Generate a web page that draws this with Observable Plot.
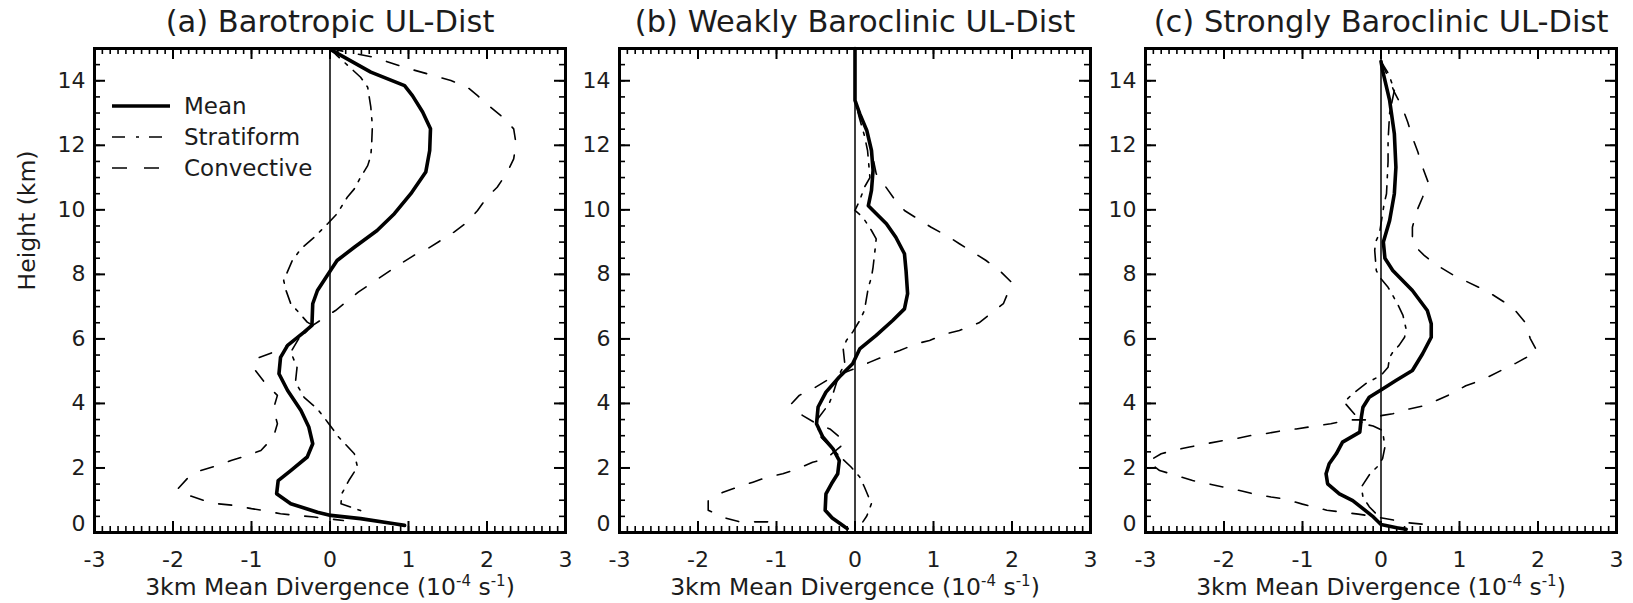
<!DOCTYPE html>
<html>
<head>
<meta charset="utf-8">
<script src="https://cdn.jsdelivr.net/npm/d3@7"></script>
<script src="https://cdn.jsdelivr.net/npm/@observablehq/plot@0.6"></script>
<style>
  html, body { margin: 0; padding: 0; background: #fff; }
  #chart { position: relative; width: 1633px; height: 603px; font-family: "DejaVu Sans", sans-serif; overflow: hidden; }
  #chart svg.panel { position: absolute; top: 0; }
  #legend { position: absolute; left: 0; top: 0; pointer-events: none; }
</style>
</head>
<body>
<div id="chart"></div>
<script>
// ---------------- Data (x = divergence 10^-4 s^-1, y = height km) ----------------
const panelTitles = ["(a) Barotropic UL-Dist", "(b) Weakly Baroclinic UL-Dist", "(c) Strongly Baroclinic UL-Dist"];
const seriesNames = ["Mean", "Stratiform", "Convective"];
const xTicks = [-3, -2, -1, 0, 1, 2, 3];
const yTicks = [0, 2, 4, 6, 8, 10, 12, 14];
const xMinorTicks = d3.range(-30, 31).map(i => i / 10);
const yMinorTicks = d3.range(0, 31).map(i => i / 2);
const xLabelParts = ["3km Mean Divergence (10", "-4", " s", "-1", ")"];
const yLabel = "Height (km)";

const meanA = [[0.02,14.95],[0.52,14.27],[0.95,13.85],[1.05,13.54],[1.18,13.03],[1.28,12.51],[1.27,11.84],[1.22,11.17],[1.03,10.5],[0.82,9.88],[0.6,9.36],[0.31,8.84],[0.09,8.43],[0.0,8.1],[-0.16,7.5],[-0.22,7.09],[-0.23,6.42],[-0.33,6.21],[-0.54,5.8],[-0.63,5.43],[-0.65,4.92],[-0.54,4.4],[-0.37,3.78],[-0.27,3.27],[-0.22,2.75],[-0.29,2.34],[-0.5,1.92],[-0.66,1.61],[-0.68,1.2],[-0.5,0.89],[-0.16,0.63],[0.01,0.53],[0.39,0.43],[0.82,0.27],[0.95,0.22]];
const stratA = [[0.0,15],[0.09,14.78],[0.39,14.11],[0.48,13.8],[0.52,13.18],[0.54,12.6],[0.53,12.0],[0.52,11.68],[0.48,11.37],[0.39,11.01],[0.31,10.65],[0.22,10.39],[0.09,9.88],[-0.03,9.57],[-0.2,9.15],[-0.37,8.79],[-0.48,8.43],[-0.59,7.81],[-0.56,7.5],[-0.5,7.09],[-0.42,6.88],[-0.29,6.52],[-0.22,6.42],[-0.4,6.0],[-0.5,5.59],[-0.42,5.12],[-0.44,4.66],[-0.33,4.19],[-0.16,3.83],[-0.03,3.42],[0.11,2.96],[0.31,2.44],[0.35,2.03],[0.24,1.61],[0.15,1.2],[0.14,0.89],[0.26,0.79],[0.39,0.68]];
const convA = [[0.0,15],[0.3,14.85],[0.56,14.73],[0.94,14.42],[1.32,14.16],[1.54,14.01],[1.75,13.8],[1.88,13.54],[2.02,13.23],[2.2,12.87],[2.34,12.51],[2.37,12.05],[2.34,11.58],[2.26,11.17],[2.13,10.7],[2.0,10.39],[1.88,9.98],[1.75,9.62],[1.58,9.31],[1.41,9.05],[1.24,8.79],[1.07,8.59],[0.9,8.33],[0.77,8.12],[0.36,7.45],[0.07,6.88],[-0.22,6.42],[-0.6,5.7],[-0.95,5.38],[-0.95,5.02],[-0.82,4.61],[-0.67,4.25],[-0.72,3.83],[-0.67,3.37],[-0.72,2.96],[-0.88,2.54],[-1.05,2.39],[-1.26,2.23],[-1.43,2.08],[-1.65,1.92],[-1.8,1.72],[-1.94,1.35],[-1.8,1.15],[-1.6,0.99],[-1.43,0.89],[-1.22,0.84],[-1.0,0.74],[-0.84,0.68],[-0.63,0.58],[-0.42,0.53],[-0.2,0.48],[-0.03,0.43],[0.17,0.37]];

const meanB = [[0,15],[0,13.39],[0.06,12.98],[0.15,12.46],[0.21,11.84],[0.23,11.22],[0.21,10.6],[0.17,10.13],[0.23,9.98],[0.4,9.57],[0.52,9.15],[0.63,8.64],[0.65,8.12],[0.67,7.4],[0.63,6.93],[0.48,6.57],[0.27,6.11],[0.06,5.69],[-0.03,5.23],[-0.2,4.82],[-0.37,4.35],[-0.47,3.89],[-0.49,3.37],[-0.41,2.96],[-0.28,2.59],[-0.2,2.23],[-0.22,1.82],[-0.3,1.51],[-0.37,1.2],[-0.38,0.69],[-0.29,0.45],[-0.15,0.21],[-0.1,0.12]];
const stratB = [[0,15],[0,13.4],[0.05,12.9],[0.12,12.3],[0.16,11.84],[0.19,11.0],[0.12,10.7],[0.06,10.29],[0.0,9.98],[0.1,9.77],[0.21,9.36],[0.27,9.1],[0.25,8.64],[0.23,8.22],[0.21,7.91],[0.17,7.6],[0.12,6.88],[0.06,6.57],[-0.03,6.21],[-0.11,5.95],[-0.15,5.69],[-0.13,5.23],[-0.2,4.9],[-0.24,4.61],[-0.28,4.3],[-0.33,3.99],[-0.49,3.47],[-0.45,3.0],[-0.25,2.49],[-0.05,2.03],[0.06,1.72],[0.12,1.41],[0.19,1.0],[0.21,0.9],[0.15,0.51],[0.1,0.33]];
const convB = [[0,15],[0,13.4],[0.07,12.95],[0.15,12.45],[0.21,11.84],[0.27,11.12],[0.38,10.75],[0.5,10.34],[0.63,9.98],[0.8,9.72],[0.97,9.46],[1.16,9.21],[1.33,8.95],[1.5,8.69],[1.67,8.43],[1.85,8.1],[2.0,7.74],[1.89,7.09],[1.58,6.5],[1.33,6.26],[1.16,6.16],[0.95,5.95],[0.78,5.85],[0.57,5.64],[0.4,5.49],[0.19,5.28],[0.04,5.12],[-0.3,4.8],[-0.54,4.45],[-0.71,4.25],[-0.81,3.99],[-0.67,3.63],[-0.49,3.37],[-0.32,3.21],[-0.12,2.8],[-0.37,2.28],[-0.54,2.18],[-0.73,1.97],[-0.92,1.82],[-1.11,1.72],[-1.3,1.56],[-1.49,1.41],[-1.68,1.25],[-1.87,0.98],[-1.87,0.69],[-1.65,0.45],[-1.47,0.33],[-1.06,0.33]];

const meanC = [[0.0,14.6],[0.02,14.32],[0.11,13.39],[0.17,12.36],[0.19,11.32],[0.17,10.5],[0.11,9.67],[0.03,9.0],[0.05,8.5],[0.15,8.12],[0.4,7.5],[0.59,6.88],[0.64,6.47],[0.64,6.05],[0.53,5.54],[0.4,5.02],[0.19,4.71],[0.02,4.45],[-0.15,4.19],[-0.23,3.88],[-0.25,3.58],[-0.27,3.11],[-0.49,2.8],[-0.57,2.44],[-0.66,2.13],[-0.7,1.82],[-0.68,1.51],[-0.53,1.2],[-0.36,0.99],[-0.11,0.51],[0.0,0.25],[0.2,0.15],[0.32,0.1]];
const stratC = [[0.0,14.6],[0.1,14.2],[0.17,13.7],[0.11,13.0],[0.09,12.15],[0.09,11.5],[0.07,10.5],[0.04,10.19],[-0.02,9.26],[-0.07,9.0],[-0.08,8.74],[-0.06,8.12],[-0.02,7.92],[0.09,7.6],[0.21,7.09],[0.28,6.73],[0.32,6.3],[0.3,6.05],[0.23,5.8],[0.15,5.59],[0.11,5.43],[0.09,5.12],[0.0,4.87],[-0.19,4.62],[-0.36,4.3],[-0.47,4.04],[-0.23,3.37],[-0.1,3.3],[0.02,3.16],[0.05,2.65],[0.02,2.29],[-0.05,2.03],[-0.14,1.82],[-0.25,1.41],[-0.23,1.1],[-0.15,0.8],[-0.05,0.55]];
const convC = [[0.0,14.6],[0.11,14.01],[0.17,13.65],[0.27,13.18],[0.34,12.72],[0.4,12.25],[0.47,11.79],[0.53,11.32],[0.6,10.86],[0.53,10.39],[0.45,9.93],[0.4,9.46],[0.4,8.95],[0.55,8.59],[0.68,8.33],[0.92,7.98],[1.37,7.45],[1.68,6.97],[1.84,6.5],[1.9,6.02],[1.99,5.61],[1.72,5.25],[1.28,4.72],[1.08,4.55],[0.9,4.3],[0.75,4.14],[0.57,3.94],[0.36,3.83],[0.15,3.68],[0.02,3.63],[-0.19,3.49],[-0.42,3.49],[-0.64,3.37],[-0.78,3.32],[-1.08,3.21],[-1.25,3.16],[-1.48,3.06],[-1.65,3.01],[-1.87,2.9],[-2.01,2.85],[-2.23,2.75],[-2.44,2.65],[-2.65,2.54],[-2.8,2.44],[-2.97,2.2],[-2.82,1.92],[-2.61,1.77],[-2.4,1.61],[-2.2,1.51],[-2.01,1.41],[-1.8,1.3],[-1.63,1.2],[-1.4,1.1],[-1.25,1.05],[-1.0,0.88],[-0.69,0.69],[-0.29,0.57],[-0.1,0.5],[0.35,0.3],[0.7,0.22]];

// ---------------- Layout & style ----------------
const panels = [
  {title: panelTitles[0], mean: meanA, strat: stratA, conv: convA, left: 0, yLabel: true},
  {title: panelTitles[1], mean: meanB, strat: stratB, conv: convB, left: 525, yLabel: false},
  {title: panelTitles[2], mean: meanC, strat: stratC, conv: convC, left: 1051, yLabel: false}
];
const W = 580, H = 603, mL = 94, mR = 15, mT = 48, mB = 71;
const fw = W - mL - mR, fh = H - mT - mB;
const ink = "#000", textInk = "#1c1c1c";
const stratDash = "13,8,3,8", convDash = "13,16";
const fontFamily = "DejaVu Sans";

const chart = document.getElementById("chart");
const px = d => d[0], py = d => d[1];

for (const p of panels) {
  const marks = [
    Plot.ruleX([0], {stroke: ink, strokeWidth: 1.5}),
    Plot.line(p.conv, {x: px, y: py, stroke: ink, strokeWidth: 1.6, strokeDasharray: convDash, curve: "linear"}),
    Plot.line(p.strat, {x: px, y: py, stroke: ink, strokeWidth: 1.6, strokeDasharray: stratDash, curve: "linear"}),
    Plot.line(p.mean, {x: px, y: py, stroke: ink, strokeWidth: 3.6, curve: "linear", strokeLinejoin: "round"}),
    // inward ticks: minor
    Plot.tickX(xMinorTicks, {x: d => d, insetTop: fh - 6, stroke: ink, strokeWidth: 1.6}),
    Plot.tickX(xMinorTicks, {x: d => d, insetBottom: fh - 6, stroke: ink, strokeWidth: 1.6}),
    Plot.tickY(yMinorTicks, {y: d => d, insetRight: fw - 6, stroke: ink, strokeWidth: 1.6}),
    Plot.tickY(yMinorTicks, {y: d => d, insetLeft: fw - 6, stroke: ink, strokeWidth: 1.6}),
    // inward ticks: major
    Plot.tickX(xTicks, {x: d => d, insetTop: fh - 11, stroke: ink, strokeWidth: 2}),
    Plot.tickX(xTicks, {x: d => d, insetBottom: fh - 11, stroke: ink, strokeWidth: 2}),
    Plot.tickY(yTicks, {y: d => d, insetRight: fw - 11, stroke: ink, strokeWidth: 2}),
    Plot.tickY(yTicks, {y: d => d, insetLeft: fw - 11, stroke: ink, strokeWidth: 2}),
    // tick labels
    Plot.axisX({anchor: "bottom", ticks: xTicks, tickSize: 0, tickPadding: 19, fontSize: 22, fill: textInk, label: null, tickFormat: d => String(d)}),
    Plot.axisY({anchor: "left", ticks: yTicks.filter(t => t > 0), tickSize: 0, tickPadding: 9, fontSize: 22, fill: textInk, label: null, tickFormat: d => String(d)}),
    Plot.axisY({anchor: "left", ticks: [0], tickSize: 0, tickPadding: 9, dy: -9, fontSize: 22, fill: textInk, label: null, tickFormat: d => String(d)}),
    Plot.frame({stroke: ink, strokeWidth: 3}),
    // title and x label
    Plot.text([p.title], {text: d => d, frameAnchor: "top", dy: -26, fontSize: 30.5, fill: textInk, lineAnchor: "middle"}),
    Plot.text([xLabelParts.join("")], {text: d => d, frameAnchor: "bottom", dy: 55, fontSize: 23.5, fill: textInk, lineAnchor: "middle"})
  ];
  if (p.yLabel) {
    marks.push(Plot.text([yLabel], {text: d => d, frameAnchor: "left", dx: -67, rotate: -90, fontSize: 23.5, fill: textInk, lineAnchor: "middle"}));
  }
  const svg = Plot.plot({
    width: W, height: H,
    marginLeft: mL, marginRight: mR, marginTop: mT, marginBottom: mB,
    x: {domain: [-3, 3]},
    y: {domain: [0, 15]},
    style: {fontFamily, background: "transparent", overflow: "visible"},
    marks
  });
  svg.classList.add("panel");
  svg.style.left = p.left + "px";
  chart.appendChild(svg);

  // superscripts in the x-axis label
  svg.querySelectorAll("text").forEach(t => {
    if (t.textContent === xLabelParts.join("")) {
      t.textContent = "";
      const shifts = [0, -9, 9, -9, 9];
      xLabelParts.forEach((s, i) => {
        const ts = document.createElementNS("http://www.w3.org/2000/svg", "tspan");
        ts.textContent = s;
        if (shifts[i]) ts.setAttribute("dy", shifts[i]);
        if (i === 1 || i === 3) ts.setAttribute("font-size", "15");
        t.appendChild(ts);
      });
    }
  });
}

// ---------------- Legend (inside panel a) ----------------
const legendRows = [
  {name: seriesNames[0], width: 3.6, dash: null, x2: 170},
  {name: seriesNames[1], width: 1.6, dash: "13,11,3,10", x2: 167},
  {name: seriesNames[2], width: 1.6, dash: "15,17", x2: 160}
];
const lg = d3.select(chart).append("svg").attr("id", "legend").attr("width", 1633).attr("height", 603);
legendRows.forEach((r, i) => {
  const y = 106 + i * 31;
  lg.append("line").attr("x1", 112).attr("x2", r.x2).attr("y1", y).attr("y2", y)
    .attr("stroke", ink).attr("stroke-width", r.width).attr("stroke-dasharray", r.dash);
  lg.append("text").attr("x", 184).attr("y", y).attr("dy", "0.36em")
    .attr("font-family", fontFamily).attr("font-size", 23).attr("fill", textInk).text(r.name);
});
</script>
</body>
</html>
